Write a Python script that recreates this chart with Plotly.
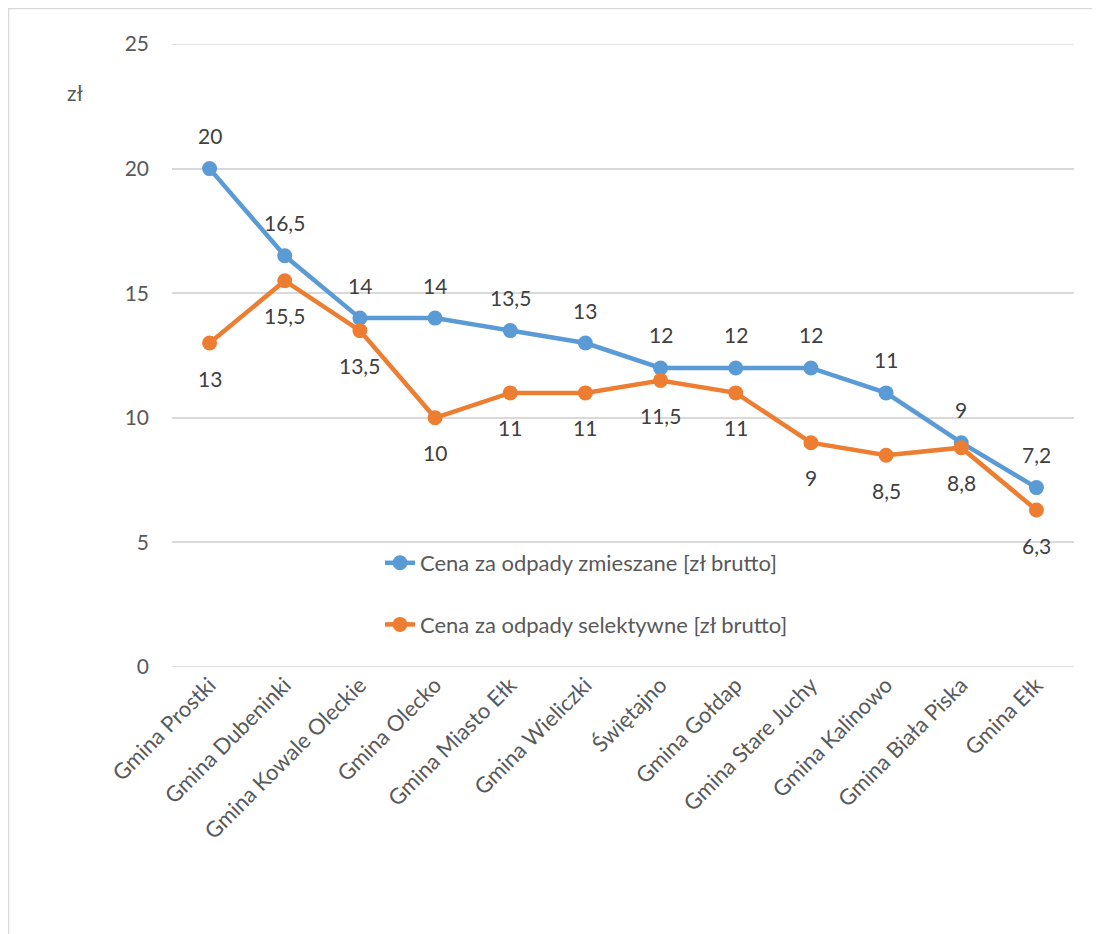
import plotly.graph_objects as go

categories = ["Gmina Prostki", "Gmina Dubeninki", "Gmina Kowale Oleckie", "Gmina Olecko",
              "Gmina Miasto Ełk", "Gmina Wieliczki", "Świętajno", "Gmina Gołdap",
              "Gmina Stare Juchy", "Gmina Kalinowo", "Gmina Biała Piska", "Gmina Ełk"]
mixed = [20, 16.5, 14, 14, 13.5, 13, 12, 12, 12, 11, 9, 7.2]
selective = [13, 15.5, 13.5, 10, 11, 11, 11.5, 11, 9, 8.5, 8.8, 6.3]
name_mixed = "Cena za odpady zmieszane [zł brutto]"
name_sel = "Cena za odpady selektywne [zł brutto]"
y_ticks = [0, 5, 10, 15, 20, 25]

BLUE = "#5B9BD5"
ORANGE = "#ED7D31"
TXT = "#595959"
GRID = "#D9D9D9"
FONT = "Lato, Carlito, 'Open Sans', sans-serif"

OFF = 8  # page body margin
W, H = 1100, 934
ml, mr, mt, mb = 164, 34, 36, 275
pw, ph = W - ml - mr, H - mt - mb


def sx(px):
    return (px - OFF - ml) / pw


def sy(py):
    return 1 - (py - OFF - mt) / ph


def fmt(v):
    return ("%g" % v).replace(".", ",")


fig = go.Figure()
fig.add_trace(go.Scatter(x=categories, y=mixed, mode="lines+markers", name=name_mixed,
                         legendgroup="a",
                         line=dict(color=BLUE, width=4.5), marker=dict(color=BLUE, size=15)))
fig.add_trace(go.Scatter(x=categories, y=selective, mode="lines+markers", name=name_sel,
                         legendgroup="b",
                         line=dict(color=ORANGE, width=4.5), marker=dict(color=ORANGE, size=15)))

annotations = []
for c, v in zip(categories, mixed):
    annotations.append(dict(x=c, y=v, xref="x", yref="y", text=fmt(v), showarrow=False,
                            yshift=33, font=dict(size=21, color="#404040", family=FONT)))
for c, v in zip(categories, selective):
    annotations.append(dict(x=c, y=v, xref="x", yref="y", text=fmt(v), showarrow=False,
                            yshift=-35, font=dict(size=21, color="#404040", family=FONT)))
annotations.append(dict(x=sx(75), y=sy(93), xref="paper", yref="paper",
                        xanchor="center", yanchor="middle",
                        text="zł", showarrow=False,
                        font=dict(size=21, color=TXT, family=FONT)))

shapes = [dict(type="rect", xref="paper", yref="paper",
               x0=sx(8.5), x1=sx(1130), y0=sy(980), y1=sy(8.5),
               line=dict(color=GRID, width=1.5), fillcolor="rgba(0,0,0,0)", layer="below")]
# edge gridlines (plotly hides gridlines that sit exactly on the range ends)
for t in (y_ticks[0], y_ticks[-1]):
    shapes.append(dict(type="line", xref="paper", yref="y", x0=0, x1=1, y0=t, y1=t,
                       line=dict(color=GRID, width=1.5), layer="below"))

fig.update_layout(
    width=W, height=H,
    margin=dict(l=ml, r=mr, t=mt, b=mb, pad=0),
    paper_bgcolor="white", plot_bgcolor="white",
    font=dict(family=FONT, color=TXT, size=21),
    showlegend=True,
    legend=dict(x=sx(380), y=sy(542), xanchor="left", yanchor="top",
                traceorder="grouped", tracegroupgap=30, bgcolor="rgba(0,0,0,0)",
                font=dict(size=22, color=TXT, family=FONT)),
    annotations=annotations,
    shapes=shapes,
)
fig.update_xaxes(type="category", range=[-0.5, len(categories) - 0.5], showgrid=False,
                 showline=False, zeroline=False, tickangle=-45, ticks="",
                 tickfont=dict(size=22, color=TXT, family=FONT))
fig.update_yaxes(range=[0, 25], tickvals=y_ticks, showgrid=True, gridcolor=GRID,
                 gridwidth=1.5, zeroline=False, showline=False, ticks="",
                 ticklabelstandoff=22,
                 tickfont=dict(size=21, color=TXT, family=FONT))

fig.write_html("out.html")
